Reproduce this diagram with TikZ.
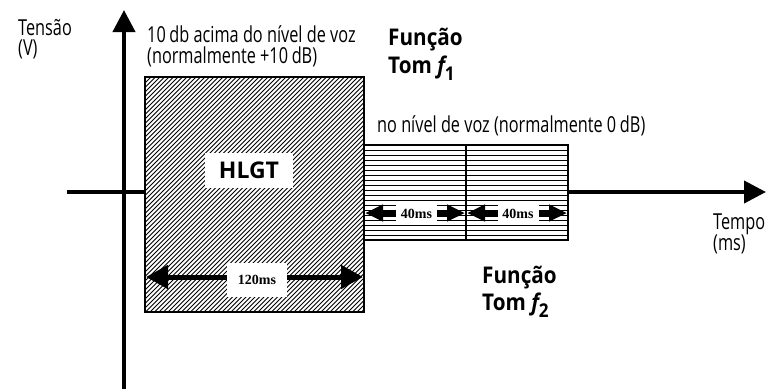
\documentclass[tikz,border=0pt]{standalone}
\usepackage{fontspec}
\setmainfont{Open Sans}
\newfontfamily\labelfont{Open Sans}[FakeStretch=0.74]
\newfontfamily\funcfont{Open Sans}[FakeStretch=0.9]
\newfontfamily\durfont{Liberation Serif}
\usetikzlibrary{arrows.meta,positioning}

\tikzset{
  axis/.style={line width=4pt, -{Triangle[length=22pt,width=22pt]}},
  pulse/.style={draw, line width=2.5pt, fill=white, inner sep=0pt},
  hatched/.style={path picture={
      \foreach \k in {-400,-395.5,...,250}
        \draw[line width=1pt] ([xshift=\k pt]path picture bounding box.south west) -- ++(420pt,420pt);
    }},
  ruled/.style={path picture={
      \foreach \k in {5,10,...,90}
        \draw[line width=0.8pt] ([yshift=\k pt]path picture bounding box.south west) -- ++(120pt,0pt);
    }},
  longspan/.style={line width=5pt, {Triangle[length=22pt,width=23pt]}-{Triangle[length=22pt,width=23pt]}},
  shortspan/.style={line width=7pt, {Triangle[length=18pt,width=16pt]}-{Triangle[length=18pt,width=16pt]}},
  durlabel/.style={fill=white, font=\durfont\bfseries\fontsize{14}{14}\selectfont},
  txt/.style={font=\labelfont\fontsize{22}{22}\selectfont, inner sep=0pt, anchor=base west},
  func/.style={font=\funcfont\bfseries\fontsize{23}{23}\selectfont, inner sep=0pt, anchor=base west},
}
\newcommand{\tonef}[1]{{\itshape f}\raisebox{-7pt}{\fontsize{19}{19}\selectfont #1}}

\begin{document}
\begin{tikzpicture}[x=1pt,y=-1pt]
  \useasboundingbox (0,0) rectangle (766,389);

  % axes
  \coordinate (ybot) at (124,389);
  \coordinate (ytop) at (124,10);
  \coordinate (xleft) at (67,192);
  \coordinate (xright) at (766,192);
  \draw[axis] (ybot) -- (ytop);
  \draw[axis] (xleft) -- (xright);

  % pulses
  \node[pulse, hatched, minimum width=219pt, minimum height=235pt] (hlgt) at (254.5,194.5) {};
  \node[pulse, ruled, minimum width=102pt, minimum height=95pt] (tone1) at (415,192.5) {};
  \node[pulse, ruled, minimum width=102pt, minimum height=95pt] (tone2) at (517,192.5) {};

  \node[fill=white, minimum width=88pt, minimum height=35pt, font=\bfseries\fontsize{23}{23}\selectfont] (hlgtlabel) at (249,170.5) {HLGT};

  % durations
  \coordinate (d1a) at (146,277);
  \coordinate (d1b) at (363,277);
  \draw[longspan] (d1a) -- (d1b);
  \node[durlabel, minimum width=60pt, minimum height=34pt] (d1) at (257,280) {120ms};

  \coordinate (d2a) at (365,213);
  \coordinate (d2b) at (466,213);
  \coordinate (d3b) at (567,213);
  \draw[shortspan] (d2a) -- ([xshift=-1pt]d2b);
  \draw[shortspan] ([xshift=1pt]d2b) -- (d3b);
  \node[durlabel, minimum width=41pt, minimum height=18pt, inner sep=0pt] (d2) at (416.5,214) {40ms};
  \node[durlabel, minimum width=41pt, minimum height=18pt, inner sep=0pt] (d3) at (518,214) {40ms};

  % texts, placed by their baselines
  \node[txt] (volt) at (18,35) {Tensão};
  \node[txt] (voltunit) at (18,55) {(V)};
  \node[txt] (time) at (713,229) {Tempo};
  \node[txt] (timeunit) at (713,250) {(ms)};
  \node[txt] (high) at (147,42) {10\,db acima do nível de voz};
  \node[txt] (highnote) at (147,63) {(normalmente +10\,dB)};
  \node[txt] (level) at (377,132) {no nível de voz (normalmente 0\,dB)};
  \node[func] (f1) at (388,45) {Função};
  \node[func] (f1tone) at (388,73) {Tom \tonef{1}};
  \node[func] (f2) at (482,283) {Função};
  \node[func] (f2tone) at (482,310) {Tom \tonef{2}};
\end{tikzpicture}
\end{document}
